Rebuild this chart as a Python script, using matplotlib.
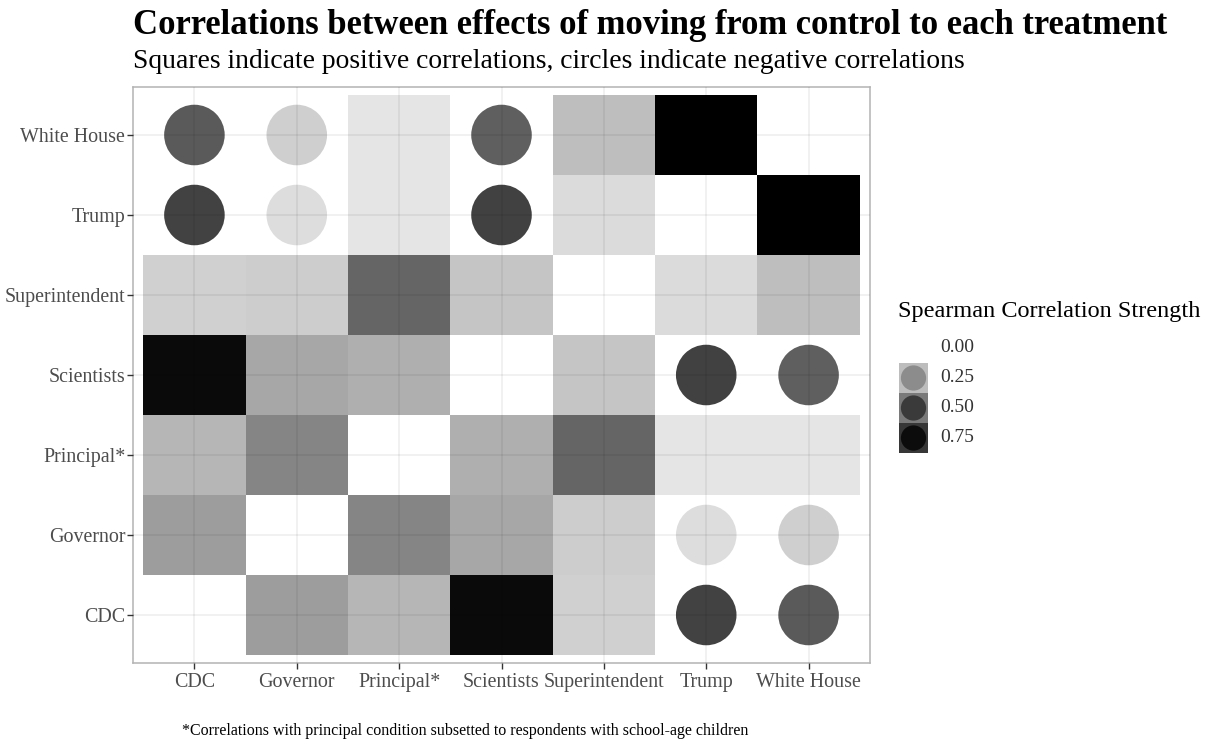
import numpy as np
import matplotlib
matplotlib.use("Agg")
import matplotlib.pyplot as plt
from matplotlib.colors import LinearSegmentedColormap, Normalize
from matplotlib.patches import Rectangle

plt.rcParams['font.family'] = ['Liberation Serif', 'DejaVu Serif']

conditions = ["CDC", "Governor", "Principal*", "Scientists", "Superintendent", "Trump", "White House"]

# pairwise Spearman correlations, diagonal left blank
pairs = [
    ("CDC", "Governor", 0.37), ("CDC", "Principal*", 0.275), ("CDC", "Scientists", 0.92),
    ("CDC", "Superintendent", 0.177), ("CDC", "Trump", -0.71), ("CDC", "White House", -0.62),
    ("Governor", "Principal*", 0.46), ("Governor", "Scientists", 0.33), ("Governor", "Superintendent", 0.19),
    ("Governor", "Trump", -0.13), ("Governor", "White House", -0.18),
    ("Principal*", "Scientists", 0.30), ("Principal*", "Superintendent", 0.58),
    ("Principal*", "Trump", 0.10), ("Principal*", "White House", 0.10),
    ("Scientists", "Superintendent", 0.22), ("Scientists", "Trump", -0.715), ("Scientists", "White House", -0.60),
    ("Superintendent", "Trump", 0.135), ("Superintendent", "White House", 0.245),
    ("Trump", "White House", 0.96),
]
legend_breaks = [0.00, 0.25, 0.50, 0.75]

n = len(conditions)
corr = np.full((n, n), np.nan)
for a, b, r in pairs:
    i, j = conditions.index(a), conditions.index(b)
    corr[i, j] = r
    corr[j, i] = r

cmap = LinearSegmentedColormap.from_list("wb", ["white", "black"])
norm = Normalize(vmin=0, vmax=0.96)

fig = plt.figure(figsize=(12.12, 7.44), dpi=100)
ax = fig.add_axes([133/1212, 1-663/744, 737/1212, 576/744])

neg_x, neg_y, neg_c = [], [], []
for i in range(n):
    for j in range(n):
        r = corr[i, j]
        if np.isnan(r):
            continue
        if r > 0:
            ax.add_patch(Rectangle((j-0.5, i-0.5), 1, 1, facecolor=cmap(norm(abs(r))),
                                   edgecolor='none', zorder=1))
        else:
            neg_x.append(j); neg_y.append(i); neg_c.append(abs(r))

ax.scatter(neg_x, neg_y, c=neg_c, cmap=cmap, norm=norm, s=1900, marker='o',
           edgecolors='none', zorder=1)

ax.set_xlim(-0.6, n-0.4)
ax.set_ylim(-0.6, n-0.4)
ax.set_xticks(range(n))
ax.set_yticks(range(n))
ax.set_xticklabels(conditions)
ax.set_yticklabels(conditions)
ax.tick_params(colors='#333333', labelcolor='#4d4d4d', labelsize=14.4, length=4, width=1)
ax.tick_params(axis='y', pad=1.5)
ax.set_axisbelow(False)
ax.grid(True, color='black', alpha=0.07, linewidth=1.1)
for s in ax.spines.values():
    s.set_color('#b3b3b3')
    s.set_linewidth(1.1)

fig.text(133/1212, 1-26/744, "Correlations between effects of moving from control to each treatment",
         fontsize=24.9, fontweight='bold', va='center', ha='left')
fig.text(133/1212, 1-61/744, "Squares indicate positive correlations, circles indicate negative correlations",
         fontsize=19.9, va='center', ha='left')
fig.text(465/1212, 1-731/744, "*Correlations with principal condition subsetted to respondents with school-age children",
         fontsize=11.5, va='center', ha='center')

# legend drawn in pixel coords
lg = fig.add_axes([0, 0, 1, 1], zorder=-1)
lg.set_xlim(0, 1212)
lg.set_ylim(744, 0)
lg.axis('off')
lg.text(898, 312, "Spearman Correlation Strength", fontsize=17.5, va='center', ha='left')
for k, v in enumerate(legend_breaks):
    yc = 348 + 30*k
    if v > 0:
        tile = cmap(norm(v))
        lg.add_patch(Rectangle((899, yc-15), 29, 30, facecolor=tile, edgecolor='none'))
        g = tile[0]**2
        lg.scatter([913.5], [yc], s=330, color=(g, g, g), edgecolors='none')
    lg.text(940, yc, "%.2f" % v, fontsize=14, va='center', ha='left', color='#333333')

fig.savefig("out.png", dpi=100)
